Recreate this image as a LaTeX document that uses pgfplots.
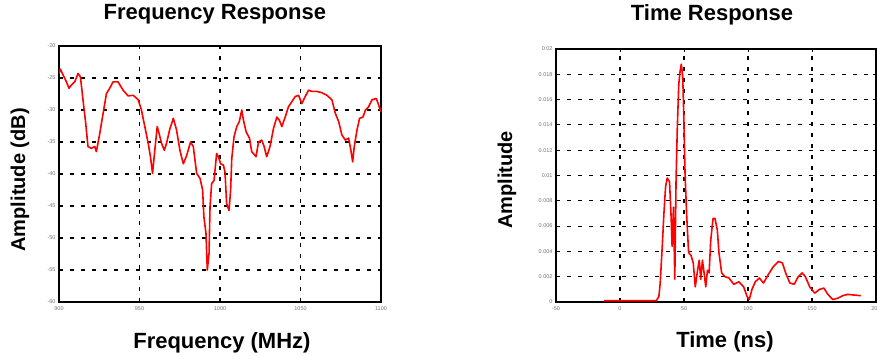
\documentclass[border=0pt]{standalone}
\usepackage{pgfplots}
\pgfplotsset{compat=1.18}
\usepackage{fontspec}
\setmainfont{Liberation Sans}
\begin{document}
\begin{tikzpicture}
\path[use as bounding box] (0pt,0pt) rectangle (877pt,-356pt);
\pgfplotsset{
  myax/.style={
    scale only axis,
    axis line style={line width=1.3pt, black},
    grid=major,
    major grid style={black, line width=1.1pt, dash pattern=on 4pt off 7pt},
    tick style={black, line width=1pt},
    major tick length=3pt,
    tick align=inside,
    ticklabel style={font=\fontsize{5.5}{6}\selectfont, text=black!55},
    /pgf/number format/assume math mode=true,
    title style={font=\fontsize{22}{24}\selectfont\bfseries, anchor=base},
    xlabel style={font=\fontsize{22}{24}\selectfont\bfseries, anchor=base},
    ylabel style={font=\fontsize{20}{22}\selectfont\bfseries, anchor=center},
    xticklabel style={yshift=-1pt},
  }
}
\begin{axis}[myax,
  at={(59pt,-302pt)}, anchor=south west,
  width=322pt, height=256pt,
  xmin=900, xmax=1100, ymin=-60, ymax=-20,
  xtick={900,950,1000,1050,1100},
  ytick={-60,-55,-50,-45,-40,-35,-30,-25,-20},
  xticklabel style={/pgf/number format/1000 sep={}},
  title={Frequency Response},
  title style={at={(axis description cs:0.484,1.082)}},
  xlabel={Frequency (MHz)},
  xlabel style={at={(axis description cs:0.506,-0.180)}},
  ylabel={Amplitude (dB)},
  ylabel style={at={(axis description cs:-0.121,0.477)}},
]
\addplot[red, line width=1.6pt, line join=round] coordinates {
(900.0,-24.3)(900.8,-23.6)(902.5,-24.5)(904.6,-25.6)(906.2,-26.6)(907.7,-26.1)
(909.8,-25.6)(911.8,-24.3)(913.3,-24.8)(914.9,-28.4)(916.6,-32.1)(918.0,-35.7)
(920.1,-36.0)(922.2,-35.7)(923.2,-36.5)(925.3,-33.7)(927.4,-30.5)(929.5,-27.4)
(931.5,-26.6)(933.6,-25.6)(936.7,-25.6)(939.8,-26.9)(942.9,-27.8)(946.1,-27.7)
(949.2,-28.4)(951.2,-30.0)(953.3,-32.6)(955.4,-35.2)(956.8,-37.3)(958.1,-39.9)
(959.5,-36.3)(961.0,-32.6)(962.2,-33.7)(963.7,-35.2)(965.4,-36.3)(966.8,-35.2)
(968.9,-32.9)(971.0,-31.3)(973.0,-33.1)(975.1,-36.3)(977.2,-38.4)(979.3,-37.1)
(981.7,-35.0)(983.4,-35.7)(985.5,-39.9)(987.6,-40.7)(989.2,-42.5)(990.0,-46.7)
(991.3,-49.3)(992.1,-55.0)(993.2,-52.4)(993.8,-45.1)(994.8,-41.5)(996.3,-41.0)
(997.9,-36.8)(999.0,-37.3)(1000.4,-38.4)(1002.1,-38.6)(1003.1,-39.7)(1004.1,-44.6)
(1005.6,-45.7)(1006.6,-42.5)(1007.3,-37.6)(1008.7,-34.2)(1010.4,-32.6)(1012.0,-31.8)
(1013.5,-30.0)(1014.5,-31.5)(1016.2,-33.4)(1018.3,-34.4)(1019.7,-36.5)(1022.4,-37.3)
(1023.9,-35.0)(1025.9,-34.7)(1027.4,-35.7)(1029.0,-37.3)(1031.1,-35.7)(1033.2,-32.9)
(1035.3,-31.1)(1036.9,-31.6)(1038.4,-32.6)(1040.5,-31.1)(1042.5,-29.5)(1044.6,-28.7)
(1046.7,-27.9)(1048.8,-27.7)(1050.8,-29.0)(1052.9,-27.9)(1055.0,-26.9)(1057.1,-27.1)
(1060.2,-27.1)(1063.3,-27.3)(1066.4,-27.7)(1069.5,-28.4)(1071.6,-30.5)(1073.7,-31.8)
(1075.7,-33.9)(1077.8,-34.7)(1079.9,-34.4)(1081.3,-36.3)(1082.4,-38.1)(1083.4,-35.7)
(1085.1,-33.1)(1086.7,-31.3)(1088.8,-31.1)(1090.3,-30.0)(1092.3,-29.5)(1094.4,-28.4)
(1097.1,-28.2)(1098.5,-29.2)(1100.0,-30.3)
};
\end{axis}
\begin{axis}[myax,
  at={(556pt,-302pt)}, anchor=south west,
  width=320pt, height=253pt,
  xmin=-50, xmax=200, ymin=0, ymax=0.02,
  xtick={-50,0,50,100,150,200},
  ytick={0,0.002,0.004,0.006,0.008,0.01,0.012,0.014,0.016,0.018,0.02},
  yticklabel style={/pgf/number format/fixed, /pgf/number format/precision=3},
  scaled y ticks=false,
  title={Time Response},
  title style={at={(axis description cs:0.4875,1.087)}},
  xlabel={Time (ns)},
  xlabel style={at={(axis description cs:0.528,-0.178)}},
  ylabel={Amplitude},
  ylabel style={at={(axis description cs:-0.153,0.482)}},
]
\addplot[red, line width=1.6pt, line join=round] coordinates {
(-12.4,0.0001)(28.4,0.0001)(30.4,0.00045)(31.4,0.0015)(33.0,0.0044)(34.3,0.0070)
(35.6,0.0091)(36.9,0.0098)(38.7,0.0095)(39.9,0.0068)(40.7,0.0044)(41.8,0.0075)
(42.8,0.0018)(43.8,0.0097)(44.8,0.0139)(45.9,0.0172)(46.9,0.0182)(47.9,0.0188)
(49.0,0.0178)(49.7,0.0152)(50.8,0.0102)(52.1,0.0068)(53.6,0.0039)(55.4,0.0037)
(57.2,0.0031)(58.8,0.0012)(60.6,0.0025)(61.9,0.0033)(63.1,0.0018)(64.4,0.0033)
(65.7,0.0023)(67.0,0.0012)(68.3,0.0025)(69.6,0.0023)(70.9,0.0049)(72.7,0.0066)
(74.2,0.0066)(76.0,0.0057)(77.3,0.0039)(79.4,0.0023)(82.0,0.0020)(85.1,0.0019)
(88.9,0.0014)(92.8,0.0016)(96.6,0.0012)(99.2,0.00045)(101.0,0.0002)(103.1,0.0010)
(105.7,0.0016)(108.8,0.0019)(112.1,0.0015)(116.0,0.0022)(119.8,0.0028)(123.7,0.0032)
(126.8,0.0031)(129.4,0.0023)(132.7,0.0015)(136.1,0.0014)(139.2,0.0020)(142.3,0.0023)
(144.8,0.0020)(148.2,0.0012)(152.1,0.0007)(155.9,0.0010)(159.3,0.0011)(162.4,0.0006)
(166.2,0.0002)(170.1,0.0003)(174.0,0.0005)(177.8,0.0006)(183.0,0.00055)(188.1,0.0005)
};
\end{axis}
\end{tikzpicture}
\end{document}
